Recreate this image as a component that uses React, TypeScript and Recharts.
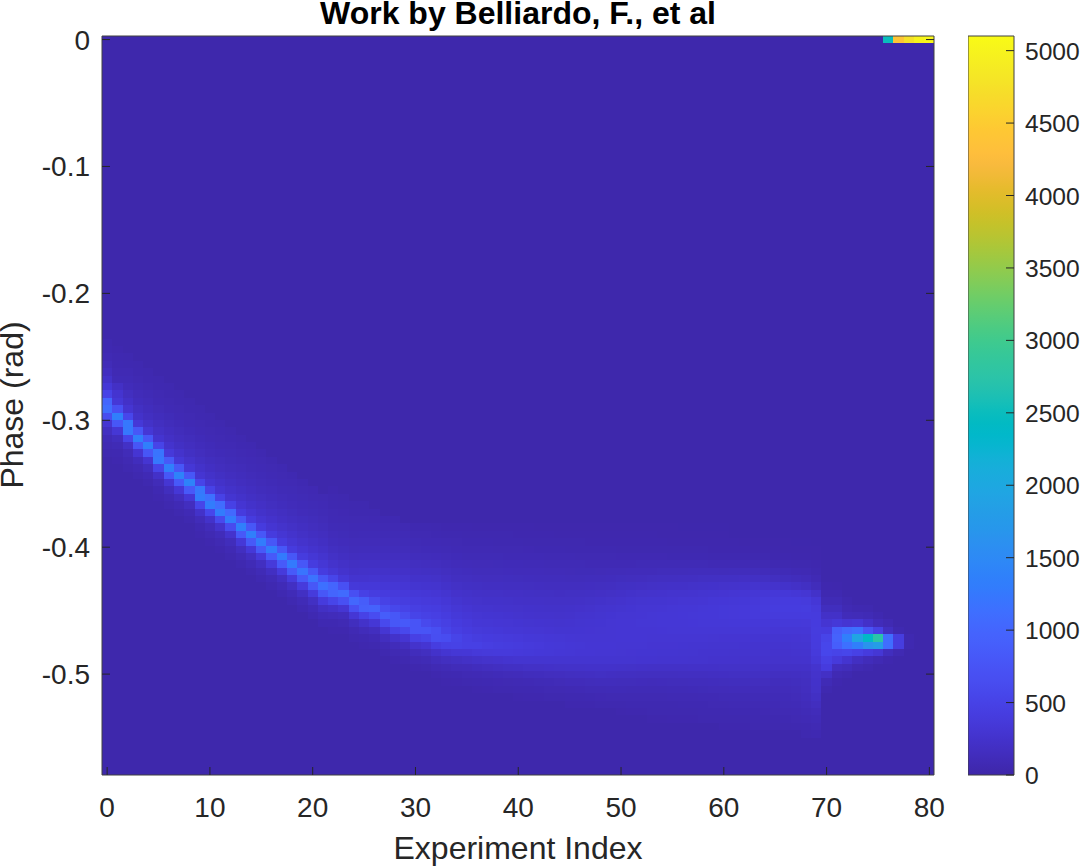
import React from "react";
import { ScatterChart, Scatter, XAxis, YAxis, BarChart, Bar } from "recharts";

const TITLE = "Work by Belliardo, F., et al";
const X_LABEL = "Experiment Index";
const Y_LABEL = "Phase (rad)";
const X_TICKS = [0, 10, 20, 30, 40, 50, 60, 70, 80];
const Y_TICKS = [-0.5, -0.4, -0.3, -0.2, -0.1, 0];
const BAR_TICKS = [0, 500, 1000, 1500, 2000, 2500, 3000, 3500, 4000, 4500, 5000];
const CLIM_MAX = 5101;
const ROW_COUNT = 100;
const COLUMN_COUNT = 81;
const PHASE_STEP = 0.00582;
const BACKGROUND = 25;

// [first row counted from the top, then the value of each following row]
const RIDGE_LEFT: number[][] = [
  [41, 50, 60, 80, 110, 160, 230, 330, 500, 1000, 1100, 650, 300, 170, 100, 70, 50],
  [42, 45, 55, 65, 80, 100, 200, 280, 340, 700, 1350, 800, 320, 150, 90, 60, 45],
  [43, 50, 60, 75, 95, 125, 165, 220, 300, 560, 1250, 1250, 520, 210, 110, 70, 50],
  [44, 50, 60, 72, 90, 115, 145, 190, 240, 340, 800, 1350, 780, 300, 140, 80, 50],
  [45, 50, 60, 72, 90, 112, 140, 175, 225, 320, 800, 1350, 780, 300, 150, 85, 50],
  [46, 50, 60, 72, 88, 110, 135, 165, 205, 280, 520, 1200, 1250, 520, 220, 110, 65, 45],
  [47, 50, 60, 72, 88, 108, 132, 162, 200, 260, 360, 820, 1350, 800, 310, 150, 80, 50],
  [48, 50, 60, 72, 86, 105, 130, 158, 195, 250, 340, 800, 1400, 820, 330, 160, 85, 50],
  [49, 50, 60, 72, 86, 104, 128, 155, 190, 245, 330, 800, 1400, 820, 330, 160, 85, 50],
  [50, 50, 60, 72, 86, 104, 126, 152, 186, 235, 300, 520, 1250, 1300, 540, 230, 115, 65, 45],
  [51, 50, 60, 72, 86, 104, 125, 150, 184, 230, 290, 500, 1150, 1300, 560, 240, 120, 70, 45],
  [52, 50, 62, 74, 88, 106, 127, 152, 185, 230, 290, 490, 1100, 1300, 600, 250, 125, 72, 46],
  [53, 52, 64, 76, 90, 108, 130, 155, 188, 232, 290, 480, 1050, 1300, 620, 260, 130, 75, 48],
  [54, 54, 66, 80, 94, 112, 134, 160, 192, 236, 300, 400, 800, 1350, 820, 340, 165, 90, 52],
  [55, 56, 68, 82, 96, 114, 136, 162, 195, 238, 300, 400, 800, 1350, 820, 350, 170, 92, 54],
  [56, 58, 70, 84, 98, 116, 138, 165, 198, 240, 300, 400, 800, 1300, 820, 360, 175, 95, 55],
  [57, 60, 72, 86, 100, 118, 140, 168, 200, 244, 300, 400, 800, 1300, 830, 370, 180, 96, 56],
  [58, 62, 74, 88, 102, 120, 144, 170, 204, 248, 305, 400, 800, 1280, 840, 380, 180, 98, 58],
  [59, 64, 76, 90, 104, 122, 146, 174, 208, 252, 310, 400, 800, 1280, 840, 390, 185, 100, 60],
  [60, 66, 78, 92, 106, 125, 150, 178, 212, 255, 315, 405, 790, 1200, 820, 390, 190, 102, 62],
  [61, 68, 80, 94, 108, 128, 152, 180, 216, 260, 320, 410, 790, 1180, 800, 390, 190, 104, 64],
  [62, 70, 82, 96, 110, 130, 156, 184, 220, 265, 325, 415, 780, 1150, 800, 395, 195, 106, 64],
];

const RIDGE_MIDDLE: number[][] = [
  [61, 45, 55, 65, 75, 88, 102, 120, 142, 170, 205, 250, 320, 540, 1000, 1000, 540, 240, 120, 65, 42],
  [62, 48, 58, 68, 78, 92, 108, 126, 150, 178, 215, 262, 345, 700, 1080, 700, 310, 140, 75, 45],
  [63, 50, 60, 70, 82, 96, 112, 132, 156, 186, 224, 272, 355, 680, 1030, 680, 320, 150, 80, 48],
  [63, 48, 58, 70, 84, 98, 116, 136, 162, 192, 230, 278, 350, 480, 880, 920, 500, 240, 120, 65, 42],
  [64, 56, 68, 82, 98, 116, 138, 164, 195, 234, 282, 345, 430, 620, 950, 640, 320, 160, 85, 50],
  [65, 64, 78, 94, 112, 134, 160, 190, 228, 276, 335, 400, 490, 660, 880, 600, 310, 160, 85, 48],
  [65, 62, 76, 92, 110, 132, 158, 188, 224, 270, 325, 380, 440, 570, 800, 800, 490, 240, 125, 70, 42],
  [66, 74, 90, 108, 130, 156, 186, 222, 266, 315, 365, 420, 510, 650, 830, 580, 300, 160, 88, 50],
  [66, 60, 74, 90, 110, 136, 166, 200, 240, 285, 340, 395, 450, 530, 760, 760, 470, 250, 135, 75, 45],
  [66, 56, 70, 86, 106, 130, 160, 194, 234, 278, 328, 378, 425, 480, 590, 760, 530, 300, 165, 92, 52],
  [66, 52, 66, 82, 102, 126, 154, 186, 226, 268, 316, 364, 410, 460, 530, 680, 670, 430, 240, 135, 75, 45],
  [66, 46, 60, 76, 92, 114, 138, 168, 202, 240, 284, 326, 370, 415, 465, 530, 640, 480, 290, 165, 95, 56, 40],
  [66, 44, 56, 70, 86, 104, 124, 148, 176, 208, 244, 282, 320, 358, 400, 445, 530, 490, 320, 190, 112, 66, 44],
  [66, 42, 52, 66, 80, 96, 116, 140, 166, 196, 228, 262, 298, 334, 368, 400, 460, 470, 335, 210, 125, 75, 50],
];

const PLUME_EARLY: number[][] = [
  [66, 40, 50, 62, 76, 92, 110, 132, 156, 185, 215, 245, 275, 305, 335, 370, 420, 470, 360, 230, 140, 85, 56, 40],
  [66, 40, 50, 62, 76, 92, 110, 130, 154, 182, 212, 240, 268, 296, 325, 358, 400, 440, 370, 245, 155, 95, 62, 44],
  [66, 38, 48, 60, 74, 90, 108, 128, 152, 180, 208, 236, 262, 288, 315, 345, 385, 420, 375, 262, 170, 105, 68, 48],
  [66, 38, 48, 58, 72, 88, 106, 126, 150, 176, 204, 230, 256, 280, 305, 335, 375, 405, 375, 278, 185, 115, 74, 52],
  [66, 36, 46, 56, 70, 86, 104, 124, 146, 172, 198, 224, 248, 270, 295, 325, 365, 395, 365, 285, 195, 125, 80, 56, 40],
  [66, 36, 44, 54, 68, 84, 100, 120, 142, 168, 194, 218, 242, 262, 286, 316, 352, 380, 355, 285, 205, 135, 88, 60, 44],
  [66, 34, 42, 52, 66, 82, 98, 118, 138, 164, 190, 214, 236, 256, 280, 308, 340, 365, 345, 285, 212, 145, 95, 64, 46],
  [66, 34, 42, 52, 64, 80, 96, 114, 136, 160, 186, 210, 232, 252, 276, 300, 330, 350, 338, 285, 220, 152, 102, 70, 50],
  [66, 32, 40, 50, 62, 78, 94, 112, 134, 158, 182, 206, 228, 248, 270, 294, 320, 338, 330, 285, 225, 160, 110, 74, 54],
  [66, 32, 40, 48, 60, 76, 92, 110, 132, 158, 186, 212, 236, 256, 276, 292, 312, 328, 322, 285, 228, 168, 118, 80, 58, 42],
  [66, 32, 38, 48, 60, 74, 90, 108, 132, 160, 190, 218, 244, 264, 282, 296, 306, 320, 316, 285, 232, 175, 125, 86, 60, 44],
  [66, 30, 38, 46, 58, 72, 88, 108, 134, 162, 195, 226, 254, 274, 289, 298, 304, 314, 312, 285, 236, 180, 130, 90, 64, 46],
  [66, 30, 38, 46, 56, 70, 88, 110, 136, 166, 200, 236, 264, 284, 296, 302, 308, 312, 306, 284, 240, 185, 135, 94, 68, 48],
  [66, 30, 36, 44, 56, 70, 88, 112, 142, 176, 212, 248, 276, 296, 306, 308, 310, 312, 304, 284, 236, 182, 134, 98, 72, 50],
];

const PLUME_LATE: number[][] = [
  [66, 30, 36, 44, 54, 68, 88, 114, 148, 186, 224, 260, 286, 304, 312, 312, 312, 310, 302, 282, 230, 176, 130, 98, 74, 54, 40],
  [66, 30, 36, 44, 54, 68, 88, 118, 154, 194, 236, 272, 296, 310, 316, 314, 312, 306, 298, 282, 225, 172, 128, 96, 74, 56, 42],
  [66, 30, 36, 42, 54, 68, 90, 122, 160, 202, 246, 282, 304, 316, 320, 316, 312, 303, 296, 280, 220, 168, 126, 96, 72, 58, 44],
  [66, 30, 35, 42, 52, 68, 90, 125, 165, 210, 255, 290, 310, 320, 320, 315, 310, 300, 295, 280, 215, 165, 125, 95, 72, 58, 48, 40],
  [66, 30, 34, 42, 52, 68, 92, 128, 170, 216, 260, 294, 316, 326, 326, 318, 310, 300, 292, 278, 216, 166, 126, 96, 74, 60, 48, 40],
  [66, 30, 34, 40, 50, 66, 92, 130, 174, 220, 264, 298, 320, 330, 330, 320, 310, 298, 290, 276, 216, 168, 128, 98, 76, 60, 50, 42],
  [66, 28, 34, 40, 50, 66, 92, 132, 178, 224, 270, 304, 326, 336, 334, 322, 308, 296, 286, 272, 218, 170, 130, 100, 78, 62, 52, 44],
  [66, 28, 32, 38, 48, 64, 92, 134, 182, 230, 276, 310, 332, 340, 336, 322, 306, 292, 282, 268, 220, 172, 134, 104, 80, 64, 54, 46],
  [66, 28, 32, 38, 48, 62, 90, 134, 186, 236, 282, 316, 338, 346, 340, 324, 304, 290, 278, 264, 222, 176, 138, 108, 84, 66, 56, 48],
  [66, 28, 32, 36, 46, 60, 88, 134, 190, 242, 290, 326, 346, 350, 342, 324, 302, 286, 274, 262, 224, 180, 142, 112, 88, 70, 58, 50],
  [66, 28, 30, 36, 44, 58, 86, 132, 192, 248, 298, 336, 354, 356, 344, 324, 300, 284, 272, 260, 226, 184, 146, 116, 92, 74, 60, 50, 42],
  [68, 36, 44, 58, 86, 134, 196, 254, 304, 342, 360, 360, 346, 324, 300, 282, 270, 258, 226, 186, 148, 118, 94, 76, 62, 52, 44],
  [68, 34, 42, 56, 84, 134, 198, 260, 312, 350, 368, 366, 348, 324, 298, 280, 268, 256, 226, 188, 150, 120, 96, 78, 64, 54, 46],
  [68, 34, 40, 54, 80, 130, 196, 264, 322, 362, 378, 372, 350, 324, 296, 278, 266, 254, 226, 190, 152, 122, 98, 80, 66, 56, 48],
  [68, 32, 38, 50, 74, 122, 186, 262, 332, 376, 390, 380, 352, 322, 294, 276, 264, 252, 224, 190, 154, 124, 100, 82, 68, 58, 50],
  [68, 30, 36, 46, 66, 108, 165, 250, 345, 390, 405, 388, 352, 318, 290, 272, 258, 246, 215, 170, 135, 115, 100, 84, 72, 60, 50],
  [68, 30, 34, 42, 60, 98, 150, 235, 345, 400, 412, 392, 355, 320, 295, 278, 262, 248, 216, 172, 142, 122, 106, 90, 76, 64, 54],
  [68, 28, 32, 40, 54, 88, 135, 215, 335, 400, 415, 396, 358, 324, 300, 284, 268, 252, 218, 178, 150, 132, 116, 100, 84, 70, 58],
  [68, 28, 32, 38, 50, 78, 118, 190, 310, 390, 420, 400, 362, 330, 306, 292, 276, 258, 222, 185, 165, 155, 140, 120, 100, 82, 66, 50],
  [68, 26, 30, 34, 42, 58, 82, 130, 230, 330, 375, 395, 400, 405, 400, 395, 380, 340, 270, 245, 240, 225, 195, 160, 125, 100, 80, 62],
];

const HOT_SPOT: number[][] = [
  [74, 45, 60, 90, 150, 220, 300, 400, 520, 560, 560, 470, 400, 200, 90, 50],
  [74, 40, 60, 90, 150, 220, 350, 900, 950, 900, 520, 380, 160, 80, 45],
  [76, 50, 80, 120, 300, 1050, 1350, 1150, 550, 280, 130, 60],
  [77, 60, 110, 320, 1150, 1950, 1350, 480, 180, 70],
  [77, 50, 90, 220, 750, 2400, 1650, 400, 120, 50],
  [78, 60, 120, 480, 2750, 1800, 320, 80],
  [79, 70, 170, 1100, 1100, 150, 45],
  [80, 60, 420, 420, 70],
  [81, 60, 60],
];

// [column, value] of the cells in the very first row
const TOP_ROW: number[][] = [[76, 2500], [77, 4400], [78, 4750], [79, 5000], [80, 5050]];

const PARULA: number[][] = [
  [0.2422, 0.1504, 0.6603], [0.2504, 0.165, 0.7076], [0.2578, 0.1818, 0.7511], [0.2647, 0.1978, 0.7952],
  [0.2706, 0.2147, 0.8364], [0.2751, 0.2342, 0.871], [0.2783, 0.2559, 0.8991], [0.2803, 0.2782, 0.9221],
  [0.2813, 0.3006, 0.9414], [0.281, 0.3228, 0.9579], [0.2795, 0.3447, 0.9717], [0.276, 0.3667, 0.9829],
  [0.2699, 0.3892, 0.9906], [0.2602, 0.4123, 0.9952], [0.244, 0.4358, 0.9988], [0.2206, 0.4603, 0.9973],
  [0.1963, 0.4847, 0.9892], [0.1834, 0.5074, 0.9798], [0.1786, 0.5289, 0.9682], [0.1764, 0.5499, 0.952],
  [0.1687, 0.5703, 0.9359], [0.154, 0.5902, 0.9218], [0.146, 0.6091, 0.9079], [0.138, 0.6276, 0.8973],
  [0.1248, 0.6459, 0.8883], [0.1113, 0.6635, 0.8763], [0.0952, 0.6798, 0.8598], [0.0689, 0.6948, 0.8394],
  [0.0297, 0.7082, 0.8163], [0.0036, 0.7203, 0.7917], [0.0067, 0.7312, 0.766], [0.0433, 0.7411, 0.7394],
  [0.0964, 0.75, 0.712], [0.1408, 0.7584, 0.6842], [0.1717, 0.767, 0.6554], [0.1938, 0.7758, 0.6251],
  [0.2161, 0.7843, 0.5923], [0.247, 0.7918, 0.5567], [0.2906, 0.7973, 0.5188], [0.3406, 0.8008, 0.4789],
  [0.3909, 0.8029, 0.4354], [0.4456, 0.8024, 0.3909], [0.5044, 0.7993, 0.348], [0.5616, 0.7942, 0.3045],
  [0.6174, 0.7876, 0.2612], [0.672, 0.7793, 0.2227], [0.7242, 0.7698, 0.191], [0.7738, 0.7598, 0.1646],
  [0.8203, 0.7498, 0.1535], [0.8634, 0.7406, 0.1596], [0.9035, 0.733, 0.1774], [0.9393, 0.7288, 0.21],
  [0.9728, 0.7298, 0.2394], [0.9956, 0.7434, 0.2371], [0.997, 0.7659, 0.2199], [0.9952, 0.7861, 0.1999],
  [0.9892, 0.8136, 0.1885], [0.9786, 0.8386, 0.1766], [0.9676, 0.8639, 0.1643], [0.961, 0.889, 0.1537],
  [0.9597, 0.9135, 0.1423], [0.9628, 0.9373, 0.1265], [0.9691, 0.9606, 0.1064], [0.9769, 0.9839, 0.0805],
];

const X_DOMAIN = [-0.5, 80.45];
const Y_DOMAIN = [-0.5795, 0.0028];
const PLOT = { left: 102, right: 934, top: 36, bottom: 775 };
const CELL_W = (PLOT.right - PLOT.left) / (X_DOMAIN[1] - X_DOMAIN[0]);
const CELL_H = ((PLOT.bottom - PLOT.top) / (Y_DOMAIN[1] - Y_DOMAIN[0])) * PHASE_STEP;
const INK = "#262626";
const FONT = "'Liberation Sans', Arial, sans-serif";
const TICK_FONT = 28;
const BAR_FONT = 24.6;
const LABEL_FONT = 32;
const TICK_LEN = 8;

function colorOf(value: number): string {
  const t = Math.max(0, Math.min(1, value / CLIM_MAX)) * (PARULA.length - 1);
  const i = Math.min(PARULA.length - 2, Math.floor(t));
  const f = t - i;
  const c = [0, 1, 2].map((k) => Math.round(255 * (PARULA[i][k] * (1 - f) + PARULA[i + 1][k] * f)));
  return `rgb(${c[0]},${c[1]},${c[2]})`;
}

const PROFILES = [...RIDGE_LEFT, ...RIDGE_MIDDLE, ...PLUME_EARLY, ...PLUME_LATE, ...HOT_SPOT];

function buildCells() {
  const grid: number[][] = [];
  for (let c = 0; c < COLUMN_COUNT; c++) grid.push(new Array(ROW_COUNT).fill(BACKGROUND));
  PROFILES.forEach((profile, c) => {
    const [start, ...values] = profile;
    values.forEach((v, i) => {
      if (start + i < ROW_COUNT) grid[c][start + i] = v;
    });
  });
  TOP_ROW.forEach(([c, v]) => {
    grid[c][0] = v;
  });
  const cells: { col: number; phase: number; level: number }[] = [];
  grid.forEach((column, c) =>
    column.forEach((v, r) => cells.push({ col: c, phase: -r * PHASE_STEP, level: v }))
  );
  return cells;
}

const CELLS = buildCells();

const CellShape = (p: any) => {
  const x1 = Math.max(PLOT.left, Math.round(p.cx - CELL_W / 2));
  const x2 = Math.min(PLOT.right, Math.round(p.cx + CELL_W / 2 + 0.3));
  const y1 = Math.max(PLOT.top, Math.round(p.cy - CELL_H / 2));
  const y2 = Math.min(PLOT.bottom, Math.round(p.cy + CELL_H / 2 + 0.3));
  return <rect x={x1} y={y1} width={x2 - x1} height={y2 - y1} fill={colorOf(p.payload.level)} shapeRendering="crispEdges" />;
};
const NoMark = () => <g />;

const BottomTick = (p: any) => (
  <g>
    <line x1={p.x} x2={p.x} y1={p.y} y2={p.y - TICK_LEN} stroke={INK} />
    <text x={p.x} y={p.y + 42} textAnchor="middle" fontSize={TICK_FONT} fontFamily={FONT} fill={INK}>{String(p.payload.value)}</text>
  </g>
);
const TopTick = (p: any) => <line x1={p.x} x2={p.x} y1={p.y} y2={p.y + TICK_LEN} stroke={INK} />;
const LeftTick = (p: any) => (
  <g>
    <line x1={p.x} x2={p.x + TICK_LEN} y1={p.y} y2={p.y} stroke={INK} />
    <text x={p.x - 12} y={p.y + 10} textAnchor="end" fontSize={TICK_FONT} fontFamily={FONT} fill={INK}>{String(p.payload.value)}</text>
  </g>
);
const RightTick = (p: any) => <line x1={p.x} x2={p.x - TICK_LEN} y1={p.y} y2={p.y} stroke={INK} />;
const BarTick = (p: any) => (
  <g>
    <line x1={p.x} x2={p.x - TICK_LEN} y1={p.y} y2={p.y} stroke={INK} />
    <text x={p.x + 11} y={p.y + 9} textAnchor="start" fontSize={BAR_FONT} fontFamily={FONT} fill={INK}>{String(p.payload.value)}</text>
  </g>
);

const BAR_DATA = [{ name: "colorbar", top: CLIM_MAX }];
const AXIS_ANCHOR = [{ col: 0, phase: 0 }];
const LAYER: React.CSSProperties = { position: "absolute", left: 0, top: 0 };
const NO_MARGIN = { top: 0, right: 0, bottom: 0, left: 0 };
const AXIS_LINE = { stroke: "#404040", strokeWidth: 1 };

export default function App() {
  return (
    <div style={{ position: "absolute", left: 0, top: 0, width: 1080, height: 867, background: "#fff", overflow: "hidden" }}>
      <ScatterChart width={1080} height={867} margin={NO_MARGIN} style={LAYER}>
        <XAxis dataKey="col" type="number" domain={X_DOMAIN} orientation="bottom" height={92} tick={false} tickLine={false} axisLine={false} allowDataOverflow />
        <YAxis dataKey="phase" type="number" domain={Y_DOMAIN} orientation="left" width={102} tick={false} tickLine={false} axisLine={false} allowDataOverflow />
        <XAxis xAxisId="pad" type="number" domain={X_DOMAIN} orientation="top" height={36} tick={false} tickLine={false} axisLine={false} />
        <YAxis yAxisId="pad" type="number" domain={Y_DOMAIN} orientation="right" width={146} tick={false} tickLine={false} axisLine={false} />
        <Scatter data={CELLS} shape={CellShape} isAnimationActive={false} />
      </ScatterChart>
      <ScatterChart width={1080} height={867} margin={NO_MARGIN} style={{ ...LAYER, pointerEvents: "none" }}>
        <XAxis xAxisId="bottom" dataKey="col" type="number" domain={X_DOMAIN} ticks={X_TICKS} interval={0} orientation="bottom" height={92} tick={BottomTick} tickLine={false} tickSize={0} tickMargin={0} axisLine={AXIS_LINE} allowDataOverflow />
        <XAxis xAxisId="top" type="number" domain={X_DOMAIN} ticks={X_TICKS} interval={0} orientation="top" height={36} tick={TopTick} tickLine={false} tickSize={0} tickMargin={0} axisLine={AXIS_LINE} allowDataOverflow />
        <YAxis yAxisId="left" dataKey="phase" type="number" domain={Y_DOMAIN} ticks={Y_TICKS} interval={0} orientation="left" width={102} tick={LeftTick} tickLine={false} tickSize={0} tickMargin={0} axisLine={AXIS_LINE} allowDataOverflow />
        <YAxis yAxisId="right" type="number" domain={Y_DOMAIN} ticks={Y_TICKS} interval={0} orientation="right" width={146} tick={RightTick} tickLine={false} tickSize={0} tickMargin={0} axisLine={AXIS_LINE} allowDataOverflow />
        <Scatter data={AXIS_ANCHOR} xAxisId="bottom" yAxisId="left" shape={NoMark} isAnimationActive={false} />
        <text x={518} y={24} textAnchor="middle" fontSize={LABEL_FONT} fontWeight="bold" fontFamily={FONT} fill="#000">{TITLE}</text>
        <text x={518} y={859} textAnchor="middle" fontSize={LABEL_FONT} fontFamily={FONT} fill={INK}>{X_LABEL}</text>
        <text x={23} y={405} transform="rotate(-90 23 405)" textAnchor="middle" fontSize={LABEL_FONT} fontFamily={FONT} fill={INK}>{Y_LABEL}</text>
      </ScatterChart>
      <BarChart width={112} height={867} data={BAR_DATA} margin={{ top: 36, right: 0, bottom: 92, left: 0 }} barCategoryGap={0} style={{ position: "absolute", left: 968, top: 0 }}>
        <defs>
          <linearGradient id="parula" x1="0" y1="1" x2="0" y2="0">
            {PARULA.map((c, i) => (
              <stop key={i} offset={i / (PARULA.length - 1)} stopColor={colorOf((i / (PARULA.length - 1)) * CLIM_MAX)} />
            ))}
          </linearGradient>
        </defs>
        <XAxis dataKey="name" hide />
        <YAxis type="number" domain={[0, CLIM_MAX]} ticks={BAR_TICKS} interval={0} orientation="right" width={66} tick={BarTick} tickLine={false} tickSize={0} tickMargin={0} axisLine={false} />
        <Bar dataKey="top" fill="url(#parula)" stroke="#404040" strokeWidth={1} isAnimationActive={false} />
      </BarChart>
    </div>
  );
}
